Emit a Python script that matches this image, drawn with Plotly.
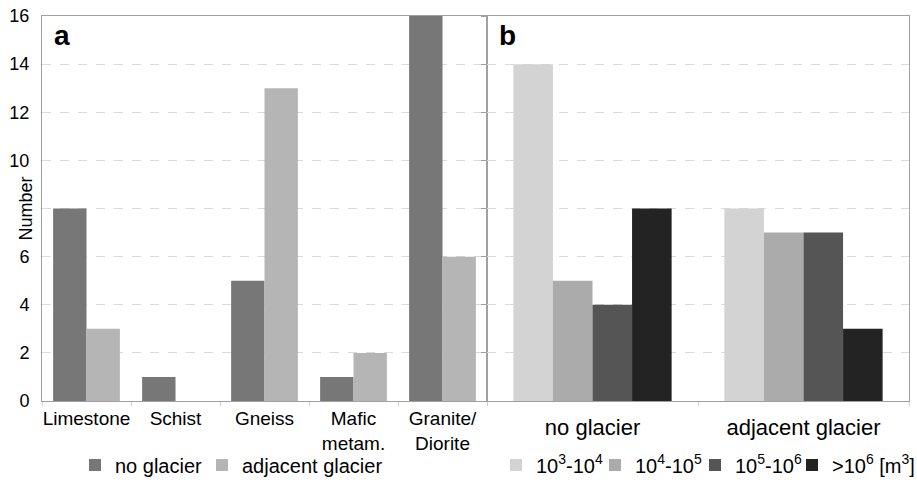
import plotly.graph_objects as go

# Panel a data
rock_types = ["Limestone", "Schist", "Gneiss", "Mafic<br>metam.", "Granite/<br>Diorite"]
no_glacier_a = [8, 1, 5, 1, 16]
adjacent_glacier_a = [3, 0, 13, 2, 6]

# Panel b data
glacier_cats = ["no glacier", "adjacent glacier"]
vol_1e3_1e4 = [14, 8]
vol_1e4_1e5 = [5, 7]
vol_1e5_1e6 = [4, 7]
vol_gt_1e6 = [8, 3]
vol_labels = ["10<sup>3</sup>-10<sup>4</sup>", "10<sup>4</sup>-10<sup>5</sup>",
              "10<sup>5</sup>-10<sup>6</sup>", ">10<sup>6</sup> [m<sup>3</sup>]"]

y_ticks = [0, 2, 4, 6, 8, 10, 12, 14, 16]
y_ticktext = ["0", "2", "4", "6", "", "10", "12", "14", "16"]

FONT = "Liberation Sans, Arial, sans-serif"

L, R, T, B = 42, 8, 16, 90
W, H = 917, 491
PW = W - L - R
PH = H - T - B


def px_x(p):
    return (p - L) / PW


def px_y(p):
    return (H - B - p) / PH


fig = go.Figure()

a_names = ["no glacier", "adjacent glacier"]
a_colors = ["#777777", "#b5b5b5"]
for i, (vals, nm, col) in enumerate(zip([no_glacier_a, adjacent_glacier_a], a_names, a_colors)):
    fig.add_trace(go.Bar(x=rock_types, y=vals, name=nm,
                         marker=dict(color=col, line=dict(width=0)),
                         xaxis="x", yaxis="y", legend="legend" if i == 0 else f"legend{i + 1}"))

b_colors = ["#d3d3d3", "#ababab", "#555555", "#232323"]
for j, (vals, lab, col) in enumerate(zip([vol_1e3_1e4, vol_1e4_1e5, vol_1e5_1e6, vol_gt_1e6],
                                         vol_labels, b_colors)):
    fig.add_trace(go.Bar(x=glacier_cats, y=vals, name=lab,
                         marker=dict(color=col, line=dict(width=0)),
                         xaxis="x2", yaxis="y2", legend=f"legend{j + 3}"))

split = 445 / PW

axis_line = "#a0a0a0"
grid = "#dadada"

# legend square left edges (pixels) in the reference
legend_square_px = [95, 222, 516, 615, 715, 812]
legend_layout = {}
for k, sq in enumerate(legend_square_px):
    key = "legend" if k == 0 else f"legend{k + 1}"
    legend_layout[key] = dict(orientation="h", x=px_x(sq - 6 - 14), xanchor="left",
                              y=px_y(465), yanchor="middle", font=dict(size=20),
                              bgcolor="rgba(0,0,0,0)", itemwidth=30, tracegroupgap=0)

fig.update_layout(
    width=W, height=H,
    margin=dict(l=L, r=R, t=T, b=B, autoexpand=False),
    paper_bgcolor="white", plot_bgcolor="white",
    font=dict(family=FONT, size=20, color="black"),
    barmode="group", bargap=0.25, bargroupgap=0,
    xaxis=dict(domain=[0, split], anchor="y", showline=True, linecolor=axis_line, mirror=True,
               ticks="outside", tickson="boundaries", ticklen=4, tickcolor="#d0d0d0",
               tickangle=0, automargin=False, tickfont=dict(size=19), showgrid=False),
    yaxis=dict(range=[0, 16], tickvals=y_ticks, ticktext=y_ticktext, showline=True,
               linecolor=axis_line, mirror=True, showgrid=True, gridcolor=grid, griddash="dash",
               ticks="", tickfont=dict(size=18), zeroline=False, automargin=False,
               ticklabelstandoff=8),
    xaxis2=dict(domain=[split, 1], anchor="y2", showline=True, linecolor=axis_line, mirror=True,
                ticks="outside", tickson="boundaries", ticklen=4, tickcolor="#d0d0d0",
                tickangle=0, automargin=False, tickfont=dict(size=22), showgrid=False,
                ticklabelstandoff=7),
    yaxis2=dict(range=[0, 16], tickvals=y_ticks, showticklabels=False, showline=True,
                linecolor=axis_line, mirror=True, showgrid=True, gridcolor=grid, griddash="dash",
                ticks="outside", ticklen=5, tickcolor=axis_line, zeroline=False, anchor="x2",
                automargin=False),
    showlegend=True,
    annotations=[
        dict(text="<b>a</b>", x=0.012, y=0.995, xref="paper", yref="paper",
             xanchor="left", yanchor="top", showarrow=False, font=dict(size=28)),
        dict(text="<b>b</b>", x=split + 0.012, y=0.995, xref="paper", yref="paper",
             xanchor="left", yanchor="top", showarrow=False, font=dict(size=28)),
        dict(text="Number", textangle=-90, x=px_x(25), y=0.5, xref="paper", yref="paper",
             xanchor="center", yanchor="middle", showarrow=False, font=dict(size=18)),
    ],
    **legend_layout,
)

fig.write_html("out.html")
